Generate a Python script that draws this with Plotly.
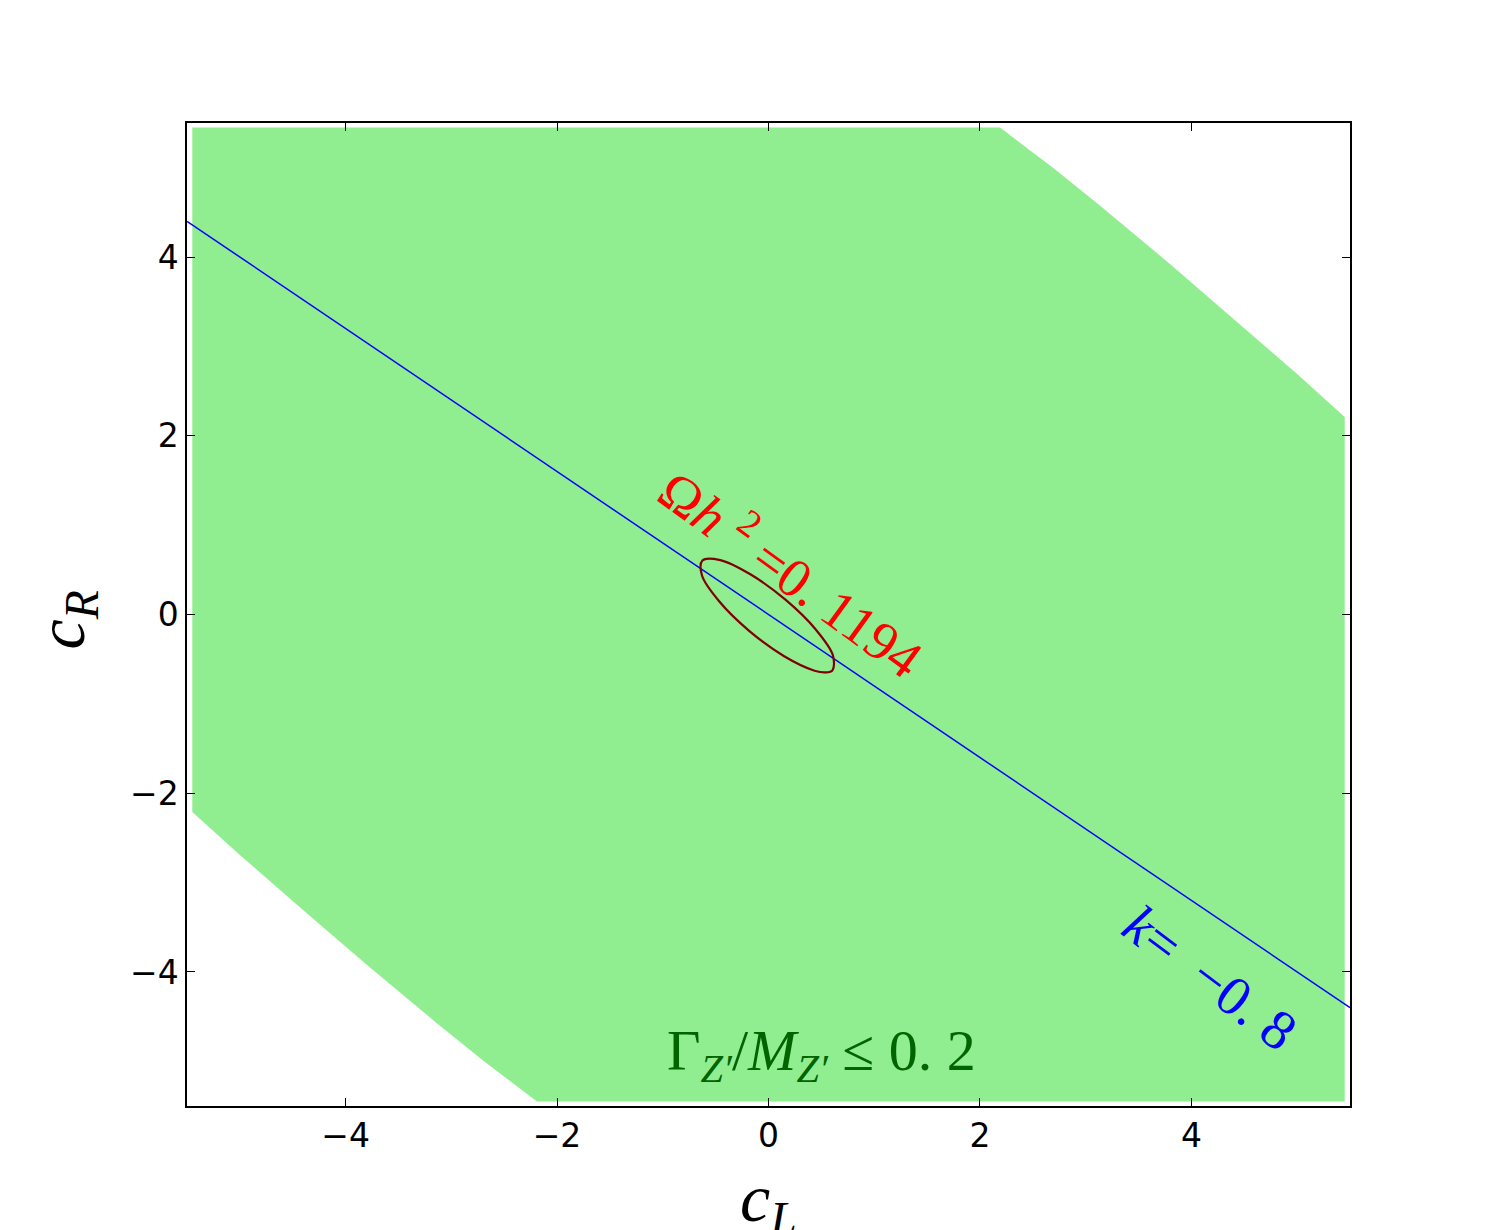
import plotly.graph_objects as go

# Boundary of the allowed region Gamma_Z'/M_Z' <= 0.2
region_cL = [-5.45, 2.19, 2.70, 3.14, 3.80, 4.40, 5.00, 5.45, 5.45,
             -2.19, -2.70, -3.14, -3.80, -4.40, -5.00, -5.45, -5.45]
region_cR = [5.45, 5.45, 4.99, 4.57, 3.92, 3.31, 2.69, 2.21, -5.45,
             -5.45, -4.99, -4.57, -3.92, -3.31, -2.69, -2.21, 5.45]

# k = -0.8 line
k_cL = [-5.5, 5.5]
k_cR = [4.4, -4.4]

# Relic density contour Omega h^2 = 0.1194
relic_cL = [0.605, 0.609, 0.447, 0.163, -0.168, -0.456, -0.625, -0.629, -0.467, -0.183, 0.148, 0.436, 0.539, 0.605]
relic_cR = [-0.625, -0.456, -0.168, 0.163, 0.447, 0.609, 0.605, 0.436, 0.148, -0.183, -0.467, -0.629, -0.648, -0.625]

tick_vals = [-4, -2, 0, 2, 4]

SERIF = "Liberation Serif, DejaVu Serif, serif"

fig = go.Figure()
fig.add_trace(go.Scatter(x=region_cL, y=region_cR, mode="lines", fill="toself",
                         fillcolor="#90EE90", line=dict(width=0, color="#90EE90"),
                         hoverinfo="skip", showlegend=False))
fig.add_trace(go.Scatter(x=k_cL, y=k_cR, mode="lines",
                         line=dict(color="#0000FF", width=1.5), showlegend=False))
fig.add_trace(go.Scatter(x=relic_cL, y=relic_cR, mode="lines",
                         line=dict(color="#7F0000", width=2.2, shape="spline"), showlegend=False))

axis_common = dict(range=[-5.5, 5.5], tickvals=tick_vals, ticks="inside", ticklen=8,
                   tickwidth=1, tickcolor="black", showline=True, linecolor="black",
                   linewidth=1.5, mirror="ticks", showgrid=False, zeroline=False,
                   tickfont=dict(family="DejaVu Sans", size=33, color="black"))
fig.update_xaxes(**axis_common)
fig.update_yaxes(**axis_common)

fig.update_layout(
    width=1500, height=1230,
    margin=dict(l=187, r=150, t=123, b=124),
    paper_bgcolor="white", plot_bgcolor="white",
    showlegend=False,
    annotations=[
        dict(text="Ω<i>h</i> <sup>2</sup> =0. 1194", x=0.23, y=0.48, xref="x", yref="y",
             textangle=36, showarrow=False,
             font=dict(family=SERIF, size=55, color="#FF0000")),
        dict(text="<i>k</i>=  −0. 8", x=4.18, y=-4.07, xref="x", yref="y",
             textangle=37, showarrow=False,
             font=dict(family=SERIF, size=56, color="#0000FF")),
        dict(text="Γ<sub><i>Z′</i></sub>/<i>M</i><sub><i>Z′</i></sub> ≤ 0. 2", x=0.5, y=-4.92,
             xref="x", yref="y", showarrow=False,
             font=dict(family=SERIF, size=58, color="#006400")),
        dict(text="<i>c</i><sub><i>L</i></sub>", x=0.5, y=0, xref="paper", yref="paper",
             xanchor="center", yanchor="middle", yshift=-96, showarrow=False,
             font=dict(family=SERIF, size=68, color="black")),
        dict(text="<i>c</i><sub><i>R</i></sub>", x=0, y=0.5, xref="paper", yref="paper",
             xanchor="center", yanchor="middle",
             xshift=-122, yshift=-6, textangle=-90, showarrow=False,
             font=dict(family=SERIF, size=68, color="black")),
    ],
)

fig.write_html("out.html")
